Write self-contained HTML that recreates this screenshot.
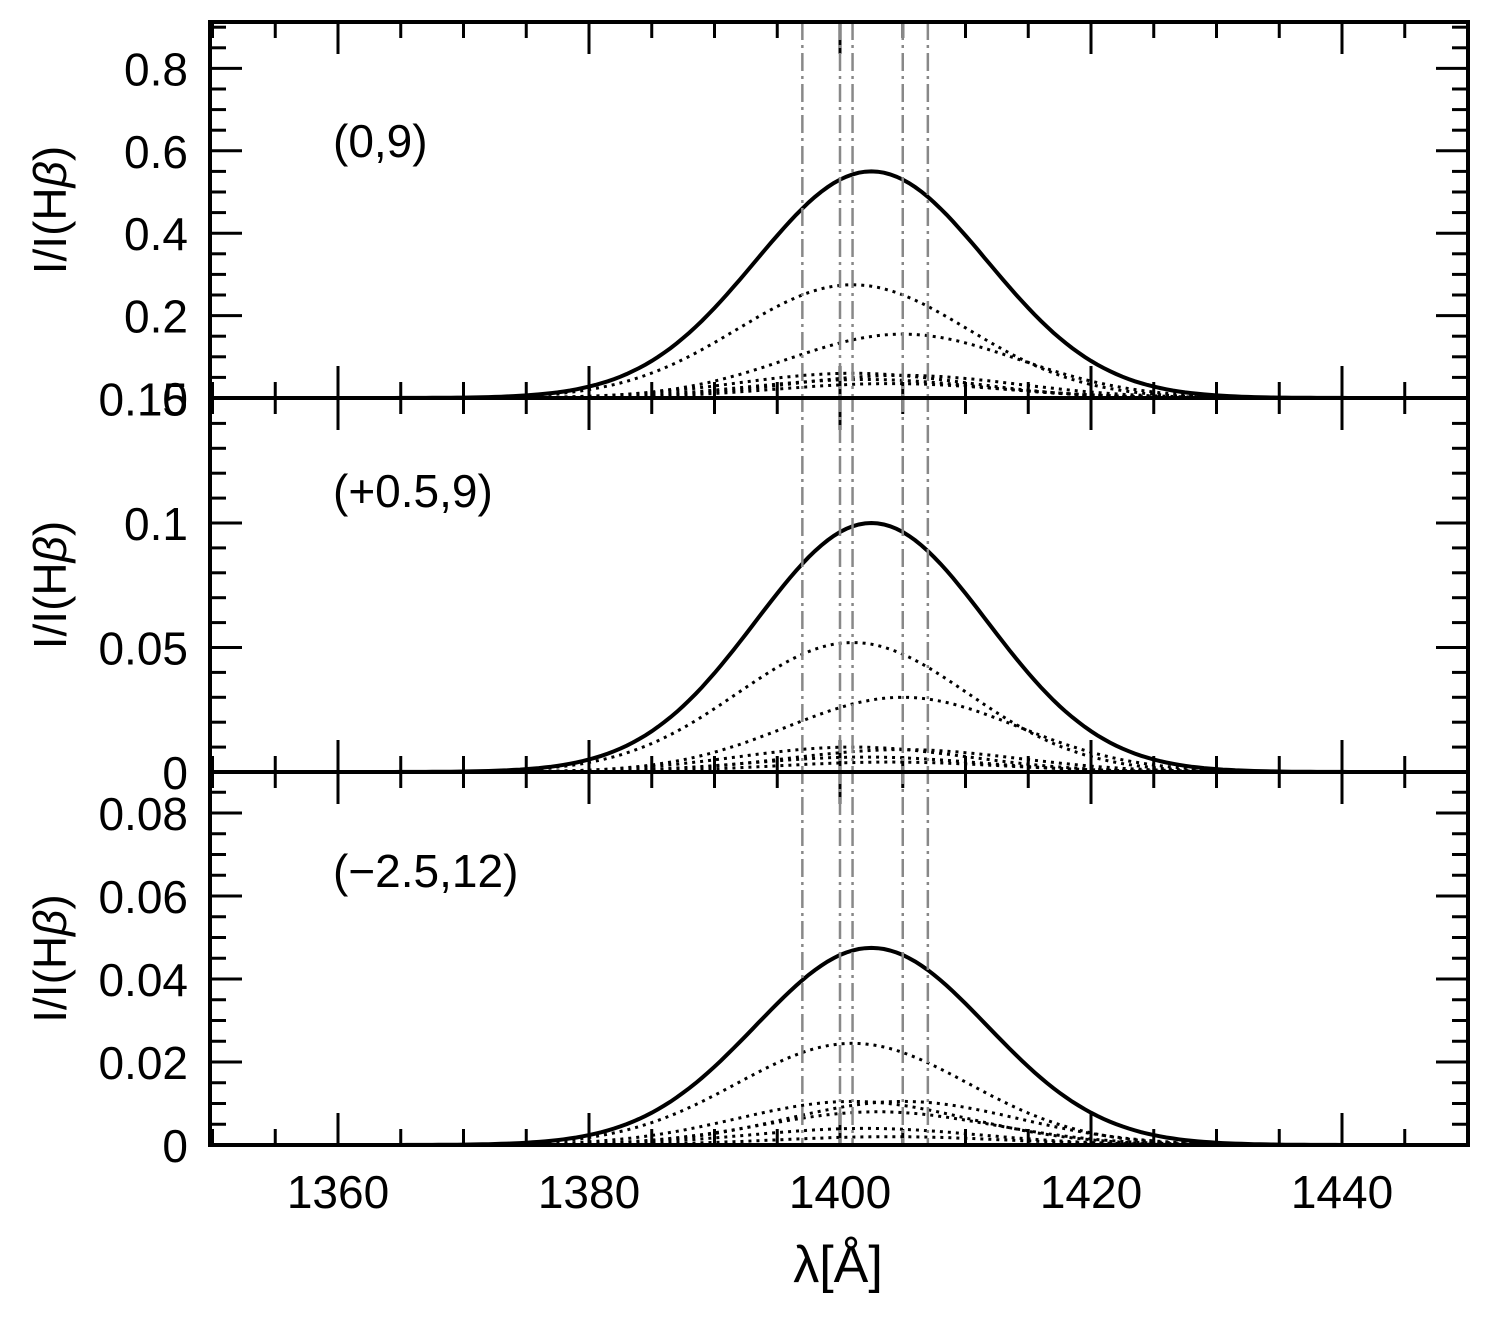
<!DOCTYPE html><html><head><meta charset="utf-8"><style>
body{margin:0;background:#fff;width:1502px;height:1314px;overflow:hidden}
text{font-family:"Liberation Sans","DejaVu Sans",sans-serif;fill:#000}
</style></head><body>
<svg id="s" width="1502" height="1314" xmlns="http://www.w3.org/2000/svg"></svg>
<script>
const s=document.getElementById('s');let h='';
const X=l=>338+(l-1360)*12.55;
const L=210,R=1468;
const panels=[
 {top:22,bot:398,sc:412,maj:0.2,min:0.05,ymax:0.913,labs:[[0,'0'],[0.2,'0.2'],[0.4,'0.4'],[0.6,'0.6'],[0.8,'0.8']],
  sol:[0.55,1402.5],dots:[[0.275,1401],[0.155,1405],[0.06,1401],[0.055,1405],[0.045,1402],[0.035,1404]],name:'(0,9)',ny:157},
 {top:398,bot:772,sc:2490,maj:0.05,min:0.01,ymax:0.15,labs:[[0,'0'],[0.05,'0.05'],[0.1,'0.1'],[0.15,'0.15']],
  sol:[0.1,1402.5],dots:[[0.052,1401],[0.03,1405],[0.01,1401],[0.009,1405],[0.006,1402],[0.004,1404]],name:'(+0.5,9)',ny:507},
 {top:772,bot:1145,sc:4150,maj:0.02,min:0.005,ymax:0.09,labs:[[0,'0'],[0.02,'0.02'],[0.04,'0.04'],[0.06,'0.06'],[0.08,'0.08']],
  sol:[0.0475,1402.5],dots:[[0.0245,1401],[0.0105,1401],[0.0105,1405],[0.008,1403],[0.004,1402],[0.002,1404]],name:'(\u22122.5,12)',ny:887}
];
const sig=9.2;
panels.forEach((p,i)=>{
 const Y=v=>p.bot-v*p.sc;
 for(let l=1350;l<=1450;l+=5){const x=X(l);if(x<L||x>R)continue;const big=l%20==0;const t=big?32:16;
  h+=`<line x1="${x}" y1="${p.bot}" x2="${x}" y2="${p.bot-t}" stroke="#000" stroke-width="3"/>`;
  h+=`<line x1="${x}" y1="${p.top}" x2="${x}" y2="${p.top+t}" stroke="#000" stroke-width="3"/>`;}
 for(let v=0;v<=p.ymax+1e-9;v+=p.min){const y=Y(v);const big=Math.abs(v/p.maj-Math.round(v/p.maj))<1e-6;const t=big?32:16;
  h+=`<line x1="${L}" y1="${y}" x2="${L+t}" y2="${y}" stroke="#000" stroke-width="3"/>`;
  h+=`<line x1="${R}" y1="${y}" x2="${R-t}" y2="${y}" stroke="#000" stroke-width="3"/>`;}
 p.labs.forEach(([v,t])=>{h+=`<text x="${L-22}" y="${Y(v)+17}" font-size="46" text-anchor="end">${t}</text>`;});
 const pth=(a,c)=>{let d='';for(let l=1350;l<=1450;l+=0.5){const v=a*Math.exp(-((l-c)**2)/(2*sig*sig));d+=(d?'L':'M')+X(l).toFixed(1)+','+Y(v).toFixed(1);}return d;};
 p.dots.forEach(([a,c])=>{h+=`<path d="${pth(a,c)}" fill="none" stroke="#000" stroke-width="3" stroke-dasharray="3,5"/>`;});
 h+=`<path d="${pth(p.sol[0],p.sol[1])}" fill="none" stroke="#000" stroke-width="4"/>`;
 h+=`<text x="333" y="${p.ny}" font-size="46">${p.name}</text>`;
 const cy=(p.top+p.bot)/2;
 h+=`<text transform="translate(66,${cy}) rotate(-90)" font-size="46" text-anchor="middle">I/I(H<tspan font-style="italic">β</tspan>)</text>`;
});
[1397,1400,1401,1405,1407].forEach(l=>{const x=X(l);h+=`<line x1="${x}" y1="22" x2="${x}" y2="1145" stroke="#888" stroke-width="2.5" stroke-dasharray="18,5,3,5"/>`;});
h+=`<rect x="${L}" y="22" width="${R-L}" height="1123" fill="none" stroke="#000" stroke-width="4"/>`;
h+=`<line x1="${L}" y1="398" x2="${R}" y2="398" stroke="#000" stroke-width="4"/><line x1="${L}" y1="772" x2="${R}" y2="772" stroke="#000" stroke-width="4"/>`;
[1360,1380,1400,1420,1440].forEach(l=>{h+=`<text x="${X(l)}" y="1208" font-size="46" text-anchor="middle">${l}</text>`;});
h+=`<text x="838" y="1282" font-size="52" text-anchor="middle">λ[Å]</text>`;
s.innerHTML=h;
</script></body></html>
